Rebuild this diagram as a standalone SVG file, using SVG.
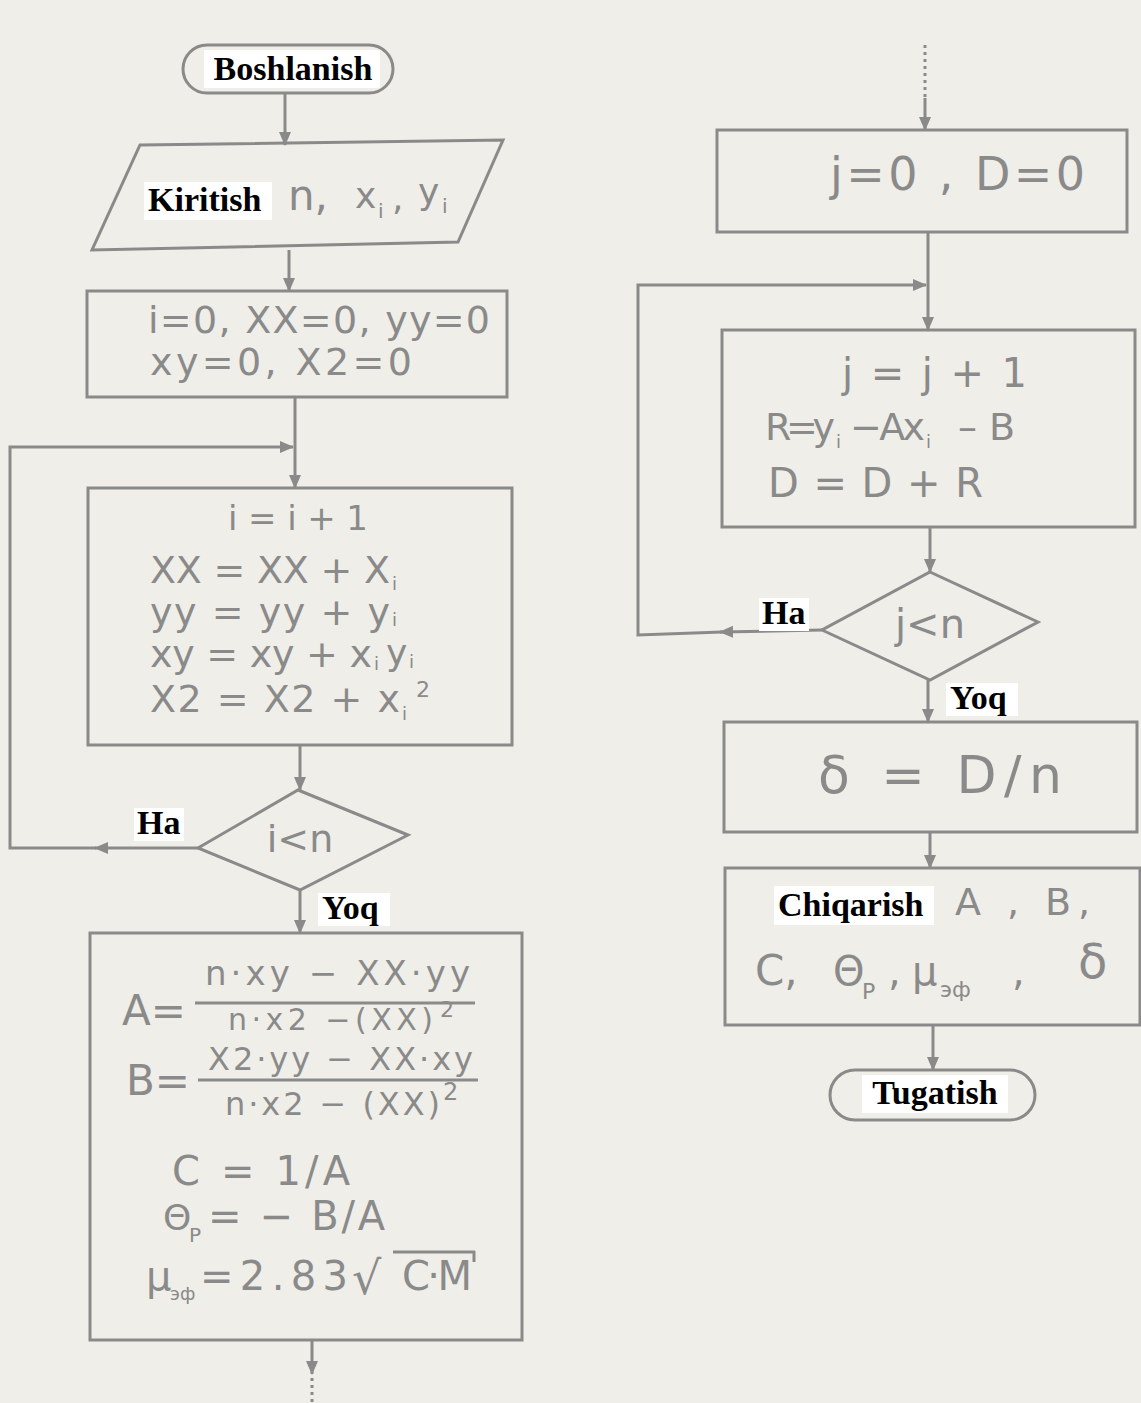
<svg xmlns="http://www.w3.org/2000/svg" width="1141" height="1403" viewBox="0 0 1141 1403">
<defs>
<marker id="ah" markerWidth="14" markerHeight="12" refX="13" refY="6" orient="auto" markerUnits="userSpaceOnUse">
<path d="M0,0 L14,6 L0,12 z" fill="#8a8a8a"/>
</marker>
<style>
.sh{fill:none;stroke:#8a8a8a;stroke-width:3}
.ln{fill:none;stroke:#8a8a8a;stroke-width:3}
.hw{font-family:"DejaVu Sans",sans-serif;fill:#8a8a8a}
.lb{font-family:"Liberation Serif",serif;font-weight:bold;fill:#000;font-size:34px}
.bg{fill:#ffffff}
</style>
</defs>
<rect x="0" y="0" width="1141" height="1403" fill="#efeee8"/>

<g id="connectors">
<line class="ln" x1="285" y1="93" x2="285" y2="145" marker-end="url(#ah)"/>
<line class="ln" x1="289" y1="250" x2="289" y2="291" marker-end="url(#ah)"/>
<line class="ln" x1="295" y1="397" x2="295" y2="488" marker-end="url(#ah)"/>
<line class="ln" x1="198" y1="848" x2="95" y2="848" marker-end="url(#ah)"/>
<polyline class="ln" points="96,848 10,848 10,447 293,447" marker-end="url(#ah)"/>
<line class="ln" x1="300" y1="745" x2="300" y2="790" marker-end="url(#ah)"/>
<line class="ln" x1="300" y1="890" x2="300" y2="933" marker-end="url(#ah)"/>
<line class="ln" x1="312" y1="1340" x2="312" y2="1374" marker-end="url(#ah)"/>
<line class="ln" x1="312" y1="1378" x2="312" y2="1403" stroke-dasharray="3,4"/>
<line class="ln" x1="925" y1="45" x2="925" y2="98" stroke-dasharray="3,4"/>
<line class="ln" x1="925" y1="98" x2="925" y2="130" marker-end="url(#ah)"/>
<line class="ln" x1="928" y1="232" x2="928" y2="330" marker-end="url(#ah)"/>
<line class="ln" x1="822" y1="630" x2="720" y2="632" marker-end="url(#ah)"/>
<polyline class="ln" points="722,632 638,635 638,285 926,285" marker-end="url(#ah)"/>
<line class="ln" x1="930" y1="527" x2="930" y2="572" marker-end="url(#ah)"/>
<line class="ln" x1="928" y1="680" x2="928" y2="722" marker-end="url(#ah)"/>
<line class="ln" x1="930" y1="832" x2="930" y2="868" marker-end="url(#ah)"/>
<line class="ln" x1="933" y1="1025" x2="933" y2="1070" marker-end="url(#ah)"/>
</g>

<g id="start">
<rect class="sh" x="183" y="45" width="210" height="48" rx="24"/>
<rect class="bg" x="204" y="50" width="176" height="38"/>
<text class="lb" x="293" y="80" text-anchor="middle">Boshlanish</text>
</g>

<g id="input">
<polygon class="sh" points="140,145 503,140 458,242 92,250"/>
<rect class="bg" x="144" y="182" width="128" height="38"/>
<text class="lb" x="148" y="211">Kiritish</text>
<text class="hw" x="288" y="210" font-size="42">n,</text>
<text class="hw" x="355" y="208" font-size="36">x</text>
<text class="hw" x="378" y="218" font-size="20">i</text>
<text class="hw" x="392" y="210" font-size="36">,</text>
<text class="hw" x="418" y="204" font-size="36">y</text>
<text class="hw" x="442" y="213" font-size="20">i</text>
</g>

<g id="init1">
<rect class="sh" x="87" y="291" width="420" height="106"/>
<text class="hw" x="148" y="333" font-size="38" textLength="342">i=0, XX=0, yy=0</text>
<text class="hw" x="150" y="375" font-size="38" textLength="262">xy=0, X2=0</text>
</g>

<g id="loop1">
<rect class="sh" x="88" y="488" width="424" height="257"/>
<text class="hw" x="228" y="530" font-size="34" textLength="140">i = i + 1</text>
<text class="hw" x="150" y="583" font-size="38" textLength="240">XX = XX + X</text>
<text class="hw" x="392" y="590" font-size="18">i</text>
<text class="hw" x="150" y="625" font-size="38" textLength="240">yy = yy + y</text>
<text class="hw" x="392" y="626" font-size="18">i</text>
<text class="hw" x="150" y="667" font-size="38" textLength="222">xy = xy + x</text>
<text class="hw" x="374" y="670" font-size="18">i</text>
<text class="hw" x="386" y="665" font-size="36">y</text>
<text class="hw" x="409" y="668" font-size="18">i</text>
<text class="hw" x="150" y="712" font-size="38" textLength="250">X2 = X2 + x</text>
<text class="hw" x="402" y="720" font-size="18">i</text>
<text class="hw" x="416" y="697" font-size="22">2</text>
</g>

<g id="cond1">
<polygon class="sh" points="298,790 408,835 300,890 198,848"/>
<text class="hw" x="300" y="852" font-size="38" text-anchor="middle">i&lt;n</text>
<rect class="bg" x="134" y="808" width="50" height="33"/>
<text class="lb" x="137" y="834">Ha</text>
<rect class="bg" x="318" y="893" width="72" height="33"/>
<text class="lb" x="322" y="919">Yoq</text>
</g>

<g id="calc">
<rect class="sh" x="90" y="933" width="432" height="407"/>
<text class="hw" x="122" y="1025" font-size="42">A=</text>
<line class="ln" x1="195" y1="1003" x2="475" y2="1003"/>
<text class="hw" x="205" y="985" font-size="34" textLength="265">n·xy − XX·yy</text>
<text class="hw" x="228" y="1030" font-size="30" textLength="205">n·x2 −(XX)</text>
<text class="hw" x="440" y="1017" font-size="22">2</text>
<text class="hw" x="126" y="1095" font-size="42">B=</text>
<line class="ln" x1="198" y1="1080" x2="478" y2="1080"/>
<text class="hw" x="208" y="1070" font-size="32" textLength="265">X2·yy − XX·xy</text>
<text class="hw" x="225" y="1115" font-size="32" textLength="215">n·x2 − (XX)</text>
<text class="hw" x="443" y="1100" font-size="24">2</text>
<text class="hw" x="172" y="1185" font-size="40" textLength="178">C = 1/A</text>
<text class="hw" x="163" y="1230" font-size="36">Θ</text>
<text class="hw" x="189" y="1242" font-size="20">P</text>
<text class="hw" x="208" y="1230" font-size="40" textLength="177">= − B/A</text>
<text class="hw" x="146" y="1290" font-size="40">μ</text>
<text class="hw" x="170" y="1300" font-size="18">эф</text>
<text class="hw" x="200" y="1290" font-size="40" textLength="148">=2.83</text>
<text class="hw" x="352" y="1294" font-size="46">√</text>
<line class="ln" x1="393" y1="1252" x2="475" y2="1252"/>
<line class="ln" x1="474" y1="1251" x2="474" y2="1262"/>
<text class="hw" x="402" y="1290" font-size="40" textLength="70">C·M</text>
</g>

<g id="init2">
<rect class="sh" x="717" y="130" width="410" height="102"/>
<text class="hw" x="830" y="190" font-size="46" textLength="255">j=0 , D=0</text>
</g>

<g id="loop2">
<rect class="sh" x="722" y="330" width="413" height="197"/>
<text class="hw" x="842" y="387" font-size="40" textLength="185">j = j + 1</text>
<text class="hw" x="765" y="440" font-size="38" textLength="70">R=y</text>
<text class="hw" x="836" y="448" font-size="18">i</text>
<text class="hw" x="850" y="440" font-size="38" textLength="75">−Ax</text>
<text class="hw" x="926" y="448" font-size="18">i</text>
<text class="hw" x="958" y="440" font-size="38">– B</text>
<text class="hw" x="768" y="497" font-size="40" textLength="215">D = D + R</text>
</g>

<g id="cond2">
<polygon class="sh" points="930,572 1038,622 930,680 822,630"/>
<text class="hw" x="930" y="638" font-size="40" text-anchor="middle">j&lt;n</text>
<rect class="bg" x="759" y="598" width="50" height="33"/>
<text class="lb" x="762" y="624">Ha</text>
<rect class="bg" x="946" y="683" width="72" height="33"/>
<text class="lb" x="950" y="709">Yoq</text>
</g>

<g id="delta">
<rect class="sh" x="724" y="722" width="413" height="110"/>
<text class="hw" x="818" y="793" font-size="52" textLength="244">δ = D/n</text>
</g>

<g id="output">
<rect class="sh" x="725" y="868" width="415" height="157"/>
<rect class="bg" x="774" y="886" width="160" height="39"/>
<text class="lb" x="778" y="916">Chiqarish</text>
<text class="hw" x="955" y="915" font-size="38" textLength="135">A , B,</text>
<text class="hw" x="755" y="985" font-size="42">C,</text>
<text class="hw" x="833" y="985" font-size="40">Θ</text>
<text class="hw" x="862" y="999" font-size="22">P</text>
<text class="hw" x="888" y="985" font-size="40">,</text>
<text class="hw" x="912" y="985" font-size="40">μ</text>
<text class="hw" x="940" y="997" font-size="22">эф</text>
<text class="hw" x="1012" y="985" font-size="40">,</text>
<text class="hw" x="1078" y="978" font-size="48">δ</text>
</g>

<g id="end">
<rect class="sh" x="830" y="1070" width="205" height="50" rx="25"/>
<rect class="bg" x="862" y="1075" width="146" height="38"/>
<text class="lb" x="935" y="1104" text-anchor="middle">Tugatish</text>
</g>
</svg>
